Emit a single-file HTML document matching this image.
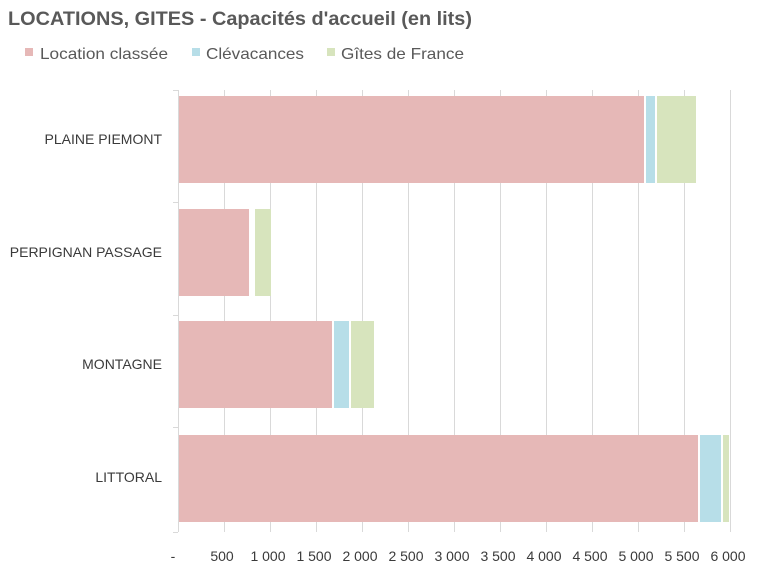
<!DOCTYPE html>
<html><head><meta charset="utf-8"><style>
body{margin:0;background:#fff;width:770px;height:571px;overflow:hidden;font-family:"Liberation Sans",sans-serif;}
</style></head><body>
<svg width="770" height="571" xmlns="http://www.w3.org/2000/svg" font-family="Liberation Sans, sans-serif">
<text x="8" y="25" font-size="19" font-weight="bold" fill="#595959" textLength="464" lengthAdjust="spacingAndGlyphs">LOCATIONS, GITES - Capacités d'accueil (en lits)</text>
<rect x="25" y="48" width="8" height="8" fill="#e6b8b7"/><text x="40" y="59" font-size="16" fill="#595959" textLength="128" lengthAdjust="spacingAndGlyphs">Location classée</text>
<rect x="192" y="48" width="8" height="8" fill="#b7dee8"/><text x="206" y="59" font-size="16" fill="#595959" textLength="98" lengthAdjust="spacingAndGlyphs">Clévacances</text>
<rect x="327" y="48" width="8" height="8" fill="#d7e4bd"/><text x="341" y="59" font-size="16" fill="#595959" textLength="123" lengthAdjust="spacingAndGlyphs">Gîtes de France</text>
<g stroke="#d9d9d9" stroke-width="1">
<line x1="224.5" y1="90" x2="224.5" y2="532"/><line x1="270.5" y1="90" x2="270.5" y2="532"/><line x1="316.5" y1="90" x2="316.5" y2="532"/><line x1="362.5" y1="90" x2="362.5" y2="532"/><line x1="408.5" y1="90" x2="408.5" y2="532"/><line x1="454.5" y1="90" x2="454.5" y2="532"/><line x1="500.5" y1="90" x2="500.5" y2="532"/><line x1="546.5" y1="90" x2="546.5" y2="532"/><line x1="592.5" y1="90" x2="592.5" y2="532"/><line x1="638.5" y1="90" x2="638.5" y2="532"/><line x1="684.5" y1="90" x2="684.5" y2="532"/><line x1="730.5" y1="90" x2="730.5" y2="532"/>
<line x1="178.5" y1="90" x2="178.5" y2="532"/>
<line x1="173" y1="90.5" x2="178" y2="90.5"/><line x1="173" y1="202.5" x2="178" y2="202.5"/><line x1="173" y1="315.5" x2="178" y2="315.5"/><line x1="173" y1="427.5" x2="178" y2="427.5"/><line x1="173" y1="532.5" x2="178" y2="532.5"/>
</g>
<rect x="179" y="96" width="465" height="87" fill="#e6b8b7"/><rect x="646" y="96" width="9" height="87" fill="#b7dee8"/><rect x="657" y="96" width="39" height="87" fill="#d7e4bd"/>
<rect x="179" y="209" width="70" height="87" fill="#e6b8b7"/><rect x="255" y="209" width="16" height="87" fill="#d7e4bd"/>
<rect x="179" y="321" width="153" height="87" fill="#e6b8b7"/><rect x="334" y="321" width="15" height="87" fill="#b7dee8"/><rect x="351" y="321" width="23" height="87" fill="#d7e4bd"/>
<rect x="179" y="435" width="519" height="87" fill="#e6b8b7"/><rect x="700" y="435" width="21" height="87" fill="#b7dee8"/><rect x="723" y="435" width="6" height="87" fill="#d7e4bd"/>
<g font-size="14" fill="#3a3a3a" text-anchor="end">
<text x="162" y="144">PLAINE PIEMONT</text><text x="162" y="257">PERPIGNAN PASSAGE</text><text x="162" y="369">MONTAGNE</text><text x="162" y="482">LITTORAL</text>
</g>
<g font-size="14" fill="#3a3a3a" text-anchor="middle">
<text x="173" y="561">-</text><text x="222" y="561">500</text><text x="268" y="561">1 000</text><text x="314" y="561">1 500</text><text x="360" y="561">2 000</text><text x="406" y="561">2 500</text><text x="452" y="561">3 000</text><text x="498" y="561">3 500</text><text x="544" y="561">4 000</text><text x="590" y="561">4 500</text><text x="636" y="561">5 000</text><text x="682" y="561">5 500</text><text x="728" y="561">6 000</text>
</g>
</svg>
</body></html>
